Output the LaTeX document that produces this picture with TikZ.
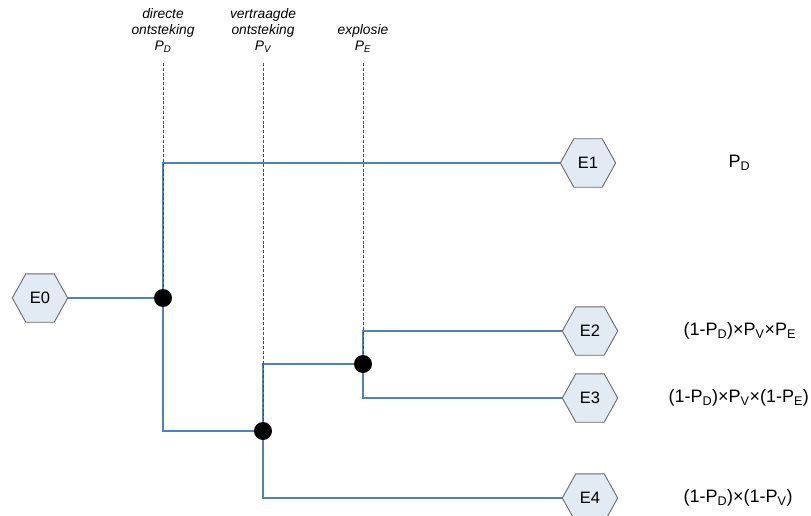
\documentclass[tikz,border=0pt]{standalone}
\usepackage{fontspec}
\setmainfont{Liberation Sans}
\usetikzlibrary{calc}
\definecolor{branch}{HTML}{4F81BD}
\definecolor{hexfill}{HTML}{E2EAF4}
\definecolor{hexline}{HTML}{6A6A6A}
\tikzset{
  event/.style={minimum width=55pt, minimum height=48pt, inner sep=0pt, font=\fontsize{16.5}{18}\selectfont},
  branchline/.style={draw=branch, line width=2.8pt},
  guide/.style={draw=black!70, line width=1pt, dash pattern=on 3pt off 1.8pt},
  junction/.style={circle, fill=black, minimum size=18pt, inner sep=0pt},
  prob/.style={font=\fontsize{18}{20}\selectfont, anchor=west},
  header/.style={font=\fontsize{13.8}{16}\selectfont\itshape, align=center, anchor=south}
}
\begin{document}
\begin{tikzpicture}[x=1pt, y=-1pt]
  \useasboundingbox (0,0) rectangle (811,516);

  % events
  \node[event] (e0) at (40,298) {};
  \node[event] (e1) at (588,163) {};
  \node[event] (e2) at (590,331) {};
  \node[event] (e3) at (590,398) {};
  \node[event] (e4) at (590,498) {};

  % hexagonal outlines behind the event labels
  \foreach \n/\t in {e0/E0, e1/E1, e2/E2, e3/E3, e4/E4} {
    \filldraw[fill=hexfill, draw=hexline, line width=0.9pt]
      (\n.west) -- ($(\n.north west)+(13.5,0)$) -- ($(\n.north east)+(-13.5,0)$)
      -- (\n.east) -- ($(\n.south east)+(-13.5,0)$) -- ($(\n.south west)+(13.5,0)$) -- cycle;
    \node[event] at (\n) {\t};
  }

  % decision points
  \coordinate (d) at (163,298);
  \coordinate (v) at (263,431);
  \coordinate (x) at (363,364);

  % header labels and guide lines
  \node[header] (hd) at (163,56) {directe\\ontsteking\\P\textsubscript{D}};
  \node[header] (hv) at (263,56) {vertraagde\\ontsteking\\P\textsubscript{V}};
  \node[header] (hx) at (363,56) {explosie\\P\textsubscript{E}};
  \coordinate (gd) at (163,63);
  \coordinate (gv) at (263,63);
  \coordinate (gx) at (363,63);

  % branches
  \draw[branchline] (e0.east) -- (d);
  \draw[branchline] (e1.west) -| (d) |- (v);
  \draw[branchline] (e4.west) -| (v) |- (x);
  \draw[branchline] (e2.west) -| (x) |- (e3.west);

  \draw[guide] (gd) -- (d);
  \draw[guide] (gv) -- (v);
  \draw[guide] (gx) -- (x);

  \node[junction] at (d) {};
  \node[junction] at (v) {};
  \node[junction] at (x) {};

  % outcome probabilities
  \node[prob] (p1) at (725,163) {P\textsubscript{D}};
  \node[prob] (p2) at (680,331) {(1-P\textsubscript{D})×P\textsubscript{V}×P\textsubscript{E}};
  \node[prob] (p3) at (665,398) {(1-P\textsubscript{D})×P\textsubscript{V}×(1-P\textsubscript{E})};
  \node[prob] (p4) at (680,498) {(1-P\textsubscript{D})×(1-P\textsubscript{V})};
\end{tikzpicture}
\end{document}
